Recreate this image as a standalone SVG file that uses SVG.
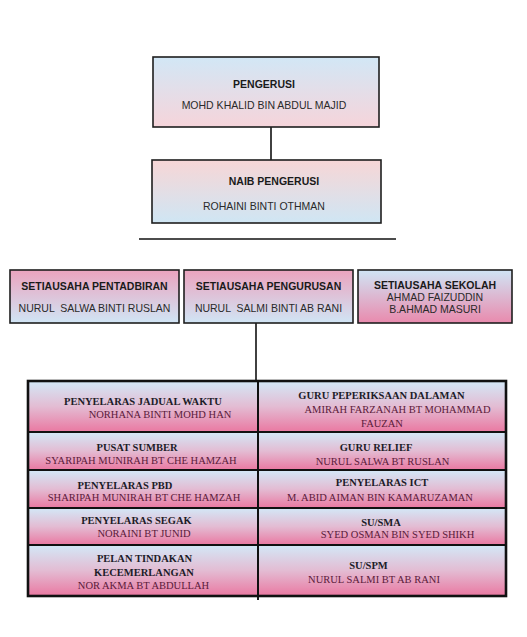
<svg xmlns="http://www.w3.org/2000/svg" width="527" height="637" viewBox="0 0 527 637">
<defs>
<linearGradient id="gCell" x1="0" y1="0" x2="0" y2="1"><stop offset="0" stop-color="#d3e8f7"/><stop offset="0.5" stop-color="#e3bcd3"/><stop offset="1" stop-color="#ea78a1"/></linearGradient>
<linearGradient id="gPB" x1="0" y1="0" x2="0" y2="1"><stop offset="0" stop-color="#eba3be"/><stop offset="1" stop-color="#d0e5f5"/></linearGradient>
<linearGradient id="gBP" x1="0" y1="0" x2="0" y2="1"><stop offset="0" stop-color="#d0e5f5"/><stop offset="1" stop-color="#e98aad"/></linearGradient>
<linearGradient id="gTop" x1="0" y1="0" x2="0" y2="1"><stop offset="0" stop-color="#d2e7f6"/><stop offset="1" stop-color="#f6d4da"/></linearGradient>
<linearGradient id="gNaib" x1="0" y1="0" x2="0" y2="1"><stop offset="0" stop-color="#f7d6d6"/><stop offset="1" stop-color="#cfe6f4"/></linearGradient>
</defs>
<style>
.box{stroke:#1e1e1e;stroke-width:1.6}
.cell{fill:url(#gCell);stroke:#111;stroke-width:2}
.sh{font-family:"Liberation Sans",Arial,sans-serif;font-size:10.5px;font-weight:bold;fill:#1a1a1a;text-anchor:middle}
.sn{font-family:"Liberation Sans",Arial,sans-serif;font-size:10.5px;fill:#2a2a2a;text-anchor:middle}
.th{font-family:"Liberation Serif","Times New Roman",serif;font-size:10.5px;font-weight:bold;fill:#1c1c28;text-anchor:middle}
.tn{font-family:"Liberation Serif","Times New Roman",serif;font-size:10.5px;fill:#5a1a3a;text-anchor:middle}
.ln{stroke:#111;stroke-width:1.6;fill:none}
</style>
<rect width="527" height="637" fill="#ffffff"/>
<g id="connectors">
<line class="ln" x1="271" y1="127" x2="271" y2="160"/>
<line class="ln" x1="139" y1="239" x2="396" y2="239" stroke-width="2"/>
<line class="ln" x1="256" y1="323" x2="256" y2="381"/>
<line class="ln" x1="258" y1="381" x2="258" y2="600"/>
</g>
<g id="pengerusi">
<rect class="box" x="153" y="57" width="226" height="70" fill="url(#gTop)"/>
<text class="sh" x="264" y="88">PENGERUSI</text>
<text class="sn" x="264" y="109">MOHD KHALID BIN ABDUL MAJID</text>
</g>
<g id="naib">
<rect class="box" x="152" y="160" width="229" height="63" fill="url(#gNaib)"/>
<text class="sh" x="274" y="185">NAIB PENGERUSI</text>
<text class="sn" x="264" y="210">ROHAINI BINTI OTHMAN</text>
</g>
<g id="pentadbiran">
<rect class="box" x="10" y="270" width="169" height="53" fill="url(#gPB)"/>
<text class="sh" x="94.5" y="290">SETIAUSAHA PENTADBIRAN</text>
<text class="sn" x="94.5" y="312" xml:space="preserve">NURUL  SALWA BINTI RUSLAN</text>
</g>
<g id="pengurusan">
<rect class="box" x="184" y="270" width="169" height="53" fill="url(#gPB)"/>
<text class="sh" x="268.5" y="290">SETIAUSAHA PENGURUSAN</text>
<text class="sn" x="268.5" y="312" xml:space="preserve">NURUL  SALMI BINTI AB RANI</text>
</g>
<g id="sekolah">
<rect class="box" x="358" y="270" width="154" height="53" fill="url(#gBP)"/>
<text class="sh" x="435" y="289">SETIAUSAHA SEKOLAH</text>
<text class="sn" x="435" y="301">AHMAD FAIZUDDIN</text>
<text class="sn" x="435" y="313">B.AHMAD MASURI</text>
</g>
<g id="jadual">
<rect class="cell" x="28" y="381" width="230" height="51"/>
<text class="th" x="143" y="405">PENYELARAS JADUAL WAKTU</text>
<text class="tn" x="160" y="418">NORHANA BINTI MOHD HAN</text>
</g>
<g id="peperiksaan">
<rect class="cell" x="258" y="381" width="248" height="51"/>
<text class="th" x="381.5" y="399">GURU PEPERIKSAAN DALAMAN</text>
<text class="tn" x="397.5" y="413">AMIRAH FARZANAH BT MOHAMMAD</text>
<text class="tn" x="382" y="427">FAUZAN</text>
</g>
<g id="pusat">
<rect class="cell" x="28" y="432" width="230" height="38"/>
<text class="th" x="137" y="451">PUSAT SUMBER</text>
<text class="tn" x="141" y="464">SYARIPAH MUNIRAH BT CHE HAMZAH</text>
</g>
<g id="relief">
<rect class="cell" x="258" y="432" width="248" height="38"/>
<text class="th" x="376" y="451">GURU RELIEF</text>
<text class="tn" x="382.5" y="465">NURUL SALWA BT RUSLAN</text>
</g>
<g id="pbd">
<rect class="cell" x="28" y="470" width="230" height="38"/>
<text class="th" x="125" y="489">PENYELARAS PBD</text>
<text class="tn" x="144" y="501">SHARIPAH MUNIRAH BT CHE HAMZAH</text>
</g>
<g id="ict">
<rect class="cell" x="258" y="470" width="248" height="38"/>
<text class="th" x="382" y="486">PENYELARAS ICT</text>
<text class="tn" x="380" y="501">M. ABID AIMAN BIN KAMARUZAMAN</text>
</g>
<g id="segak">
<rect class="cell" x="28" y="508" width="230" height="37"/>
<text class="th" x="136.5" y="524">PENYELARAS SEGAK</text>
<text class="tn" x="144" y="537">NORAINI BT JUNID</text>
</g>
<g id="sma">
<rect class="cell" x="258" y="508" width="248" height="37"/>
<text class="th" x="381" y="526">SU/SMA</text>
<text class="tn" x="397.5" y="538">SYED OSMAN BIN SYED SHIKH</text>
</g>
<g id="pelan">
<rect class="cell" x="28" y="545" width="230" height="51"/>
<text class="th" x="144.5" y="562">PELAN TINDAKAN</text>
<text class="th" x="144" y="576">KECEMERLANGAN</text>
<text class="tn" x="143.5" y="589">NOR AKMA BT ABDULLAH</text>
</g>
<g id="spm">
<rect class="cell" x="258" y="545" width="248" height="51"/>
<text class="th" x="368.5" y="569">SU/SPM</text>
<text class="tn" x="374" y="583">NURUL SALMI BT AB RANI</text>
</g>
<g id="frame">
<rect x="28" y="381" width="478" height="215" fill="none" stroke="#111" stroke-width="2.6"/>
<line class="ln" x1="258" y1="381" x2="258" y2="600"/>
</g>
</svg>
